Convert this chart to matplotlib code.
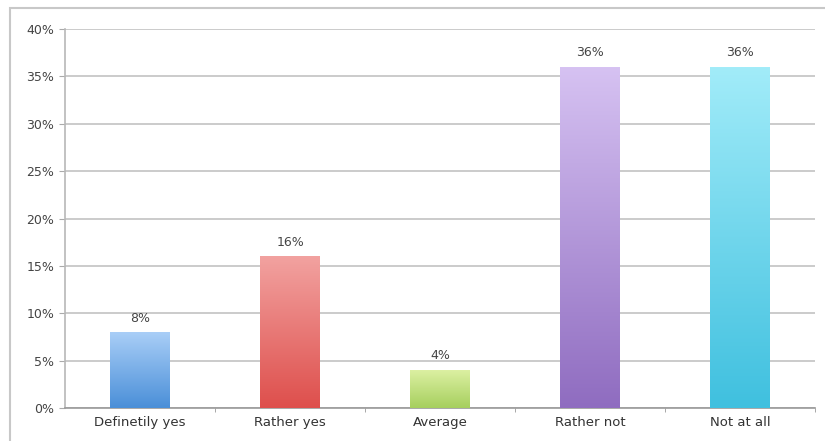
import numpy as np
import matplotlib

matplotlib.use("Agg")
import matplotlib.pyplot as plt
from matplotlib.colors import LinearSegmentedColormap
from matplotlib.patches import Rectangle

categories = ["Definetily yes", "Rather yes", "Average", "Rather not", "Not at all"]
values = [8, 16, 4, 36, 36]
top_colors = ["#a9cef7", "#f2a2a0", "#dcf0a2", "#d6c2f2", "#a2ecf9"]
bottom_colors = ["#4a8fd8", "#de4f4c", "#a6cf5e", "#8f6cc0", "#3fc0df"]
yticks = [0, 5, 10, 15, 20, 25, 30, 35, 40]

fig = plt.figure(figsize=(8.25, 4.41), dpi=100)
ax = fig.add_axes([0.079, 0.075, 0.909, 0.859])

# outer frame of the chart
fig.patches.append(Rectangle((0.012, -0.05), 1.1, 1.032, transform=fig.transFigure,
                             fill=False, edgecolor="#c8c8c8", linewidth=1.5))

x = np.arange(len(categories))
width = 0.4
grad = np.linspace(1, 0, 256).reshape(-1, 1)
for xi, v, ct, cb in zip(x, values, top_colors, bottom_colors):
    bar = ax.bar(xi, v, width=width, color="none", edgecolor="none", zorder=3)[0]
    cmap = LinearSegmentedColormap.from_list("g", [cb, ct])
    im = ax.imshow(grad, cmap=cmap, aspect="auto", zorder=3,
                   extent=[xi - width / 2, xi + width / 2, 0, v])
    im.set_clip_path(bar)
    ax.text(xi, v + 0.8, f"{v}%", ha="center", va="bottom", fontsize=9, color="#444444")

ax.set_xlim(-0.5, len(categories) - 0.5)
ax.set_ylim(0, 40)
ax.set_yticks(yticks)
ax.set_yticklabels([f"{t}%" for t in yticks])
ax.set_xticks(x)
ax.set_xticklabels(categories)
ax.set_xticks(x + 0.5, minor=True)
ax.tick_params(axis="x", which="major", length=0, labelsize=9.5, colors="#333333", pad=6)
ax.tick_params(axis="x", which="minor", length=3, color="#999999")
ax.tick_params(axis="y", length=4, color="#aaaaaa", labelsize=9, labelcolor="#444444", pad=4)
ax.yaxis.grid(True, color="#bdbdbd", linewidth=1.1, zorder=0)
ax.set_axisbelow(True)
for s in ["top", "right"]:
    ax.spines[s].set_visible(False)
ax.spines["left"].set_color("#b8b8b8")
ax.spines["bottom"].set_color("#999999")
ax.spines["left"].set_linewidth(1.2)
ax.spines["bottom"].set_linewidth(1.2)

fig.savefig("out.png", dpi=100)
